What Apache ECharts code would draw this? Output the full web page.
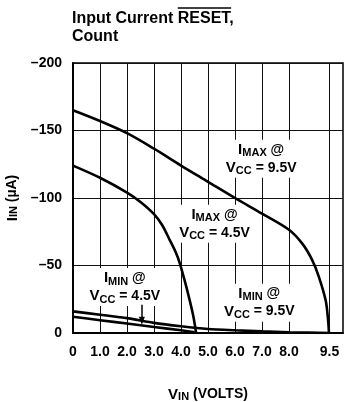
<!DOCTYPE html>
<html><head><meta charset="utf-8">
<script src="https://cdn.jsdelivr.net/npm/echarts@6/dist/echarts.min.js"></script>
<style>html,body{margin:0;padding:0;background:#fff}#c{width:344px;height:402px}</style>
</head><body><div id="c"></div>
<script>
var xTickValues = [0, 1, 2, 3, 4, 5, 6, 7, 8, 9.5];
var yTickValues = [-200, -150, -100, -50, 0];
var iMax95 = [[0,-165],[1,-157],[2,-148],[3,-136.5],[4,-124],[5,-112],[6,-100],[7,-88.5],[8,-76.5],[8.5,-66],[8.86,-54],[9.1,-42],[9.36,-24],[9.45,-9],[9.48,0]];
var iMax45 = [[0,-124],[1,-115],[2,-104],[2.5,-97],[3,-88],[3.3,-80],[3.58,-69],[3.8,-60],[3.95,-52],[4.2,-34],[4.44,-14],[4.56,0]];
var iMin95 = [[0,-16],[1,-13.5],[2,-11],[3,-7.5],[4,-5],[5,-3],[6,-2],[7,-1.2],[8,-0.6],[9.5,0]];
var iMin45 = [[0,-12],[1,-9.5],[2,-7],[3,-4.5],[4,-2],[4.5,-0.5]];
var FONT = '"Liberation Sans", Arial, sans-serif';
var rich = {
  b: {fontSize: 15, fontWeight: 'bold', fontFamily: FONT, color: '#000'},
  s: {fontSize: 11, fontWeight: 'bold', fontFamily: FONT, color: '#000', verticalAlign: 'bottom', padding: [4,0,0,0]},
  t: {fontSize: 14, fontWeight: 'bold', fontFamily: FONT, color: '#000'}
};
var annotations = [
  {pos: [6.97, -129], text: '{b|I}{s|MAX}{t| @}\n{b|V}{s|CC}{t| = 9.5V}'},
  {pos: [5.24, -81], text: '{b|I}{s|MAX}{t| @}\n{b|V}{s|CC}{t| = 4.5V}'},
  {pos: [1.92, -34], text: '{b|I}{s|MIN}{t| @}\n{b|V}{s|CC}{t| = 4.5V}'},
  {pos: [6.9, -22.5], text: '{b|I}{s|MIN}{t| @}\n{b|V}{s|CC}{t| = 9.5V}'}
];
var chart = echarts.init(document.getElementById('c'), null, {renderer: 'canvas'});
var lineS = {color: '#000', width: 2.6};
function ser(d, extra) {
  var s = {type: 'line', data: d, showSymbol: false, symbol: 'none', smooth: 0.3, lineStyle: lineS, silent: true, z: 5};
  for (var k in extra) s[k] = extra[k];
  return s;
}
chart.setOption({
  animation: false,
  backgroundColor: '#fff',
  grid: {left: 73, top: 63, right: 1, bottom: 69, show: true, borderColor: '#000', borderWidth: 1.5,
    containLabel: false, outerBoundsMode: 'none'},
  xAxis: {
    type: 'value', min: 0, max: 10,
    name: '{b|V}{s|IN}{t| (VOLTS)}', nameLocation: 'middle', nameGap: 54,
    nameTextStyle: {rich: rich},
    axisLine: {show: true, lineStyle: {color: '#000', width: 2}},
    axisTick: {show: false},
    splitLine: {show: false},
    axisLabel: {customValues: xTickValues, formatter: function(v){return v === 0 ? '0' : v.toFixed(1);},
      color: '#000', fontWeight: 'bold', fontSize: 14, fontFamily: FONT, margin: 12}
  },
  yAxis: {
    type: 'value', min: -200, max: 0, interval: 50, inverse: true,
    name: '{b|I}{s|IN}{t| (µA)}', nameLocation: 'middle', nameGap: 53, nameRotate: 90,
    nameTextStyle: {rich: rich},
    axisLine: {show: true, lineStyle: {color: '#000', width: 2}},
    axisTick: {show: false},
    splitLine: {show: true, lineStyle: {color: '#111', width: 1}},
    axisLabel: {formatter: function(v){return v === 0 ? '0' : '\u2013' + Math.abs(v);},
      color: '#000', fontWeight: 'bold', fontSize: 14, fontFamily: FONT, margin: 11}
  },
  series: [
    ser(iMax95, {markLine: {silent: true, symbol: 'none', label: {show: false},
      lineStyle: {color: '#111', width: 1, type: 'solid'}, z: 1,
      data: xTickValues.filter(function(v){return v > 0;}).map(function(v){return {xAxis: v};})}}),
    ser(iMax45, {}),
    ser(iMin95, {smooth: 0.2}),
    ser(iMin45, {smooth: 0.2, markLine: {silent: true, symbol: ['none', 'triangle'], symbolSize: [6, 8], label: {show: false},
      lineStyle: {color: '#000', width: 1.5, type: 'solid'},
      data: [[{coord: [2.55, -21]}, {coord: [2.55, -9]}]]}})
  ]
});
// annotations positioned from data coordinates
var g = [];
annotations.forEach(function(a){
  var p = chart.convertToPixel({gridIndex: 0}, a.pos);
  g.push({type: 'text', x: p[0], y: p[1], z: 3,
    style: {text: a.text, rich: rich, align: 'center', verticalAlign: 'middle', lineHeight: 18,
      backgroundColor: '#fff', padding: [1, 2], fill: '#000'}});
});
// title with overlined RESET
var cv = document.createElement('canvas').getContext('2d');
cv.font = 'bold 16px ' + FONT;
var w1 = cv.measureText('Input Current ').width;
var w2 = cv.measureText('RESET').width;
g.push({type: 'text', x: 72, y: 10, style: {text: 'Input Current RESET,\nCount', font: 'bold 16px ' + FONT, fill: '#000', lineHeight: 18}});
g.push({type: 'line', shape: {x1: 72 + w1, y1: 8, x2: 72 + w1 + w2, y2: 8}, style: {stroke: '#000', lineWidth: 1.3}});
chart.setOption({graphic: g});
</script></body></html>
